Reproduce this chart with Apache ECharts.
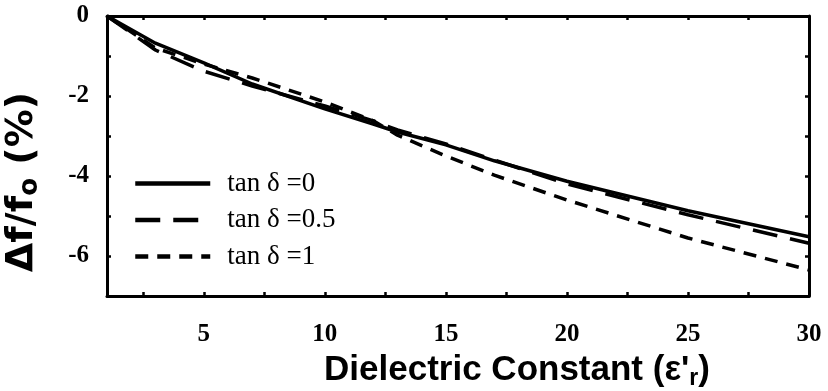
<!DOCTYPE html>
<html>
<head>
<meta charset="utf-8">
<script src="https://cdn.jsdelivr.net/npm/echarts@6/dist/echarts.min.js"></script>
<style>
  html, body { margin: 0; padding: 0; background: #fff; }
  #chart { width: 828px; height: 391px; }
</style>
</head>
<body>
<div id="chart"></div>
<script>
// Frequency shift versus dielectric constant for three loss tangents
const epsR = [1, 3, 5, 7, 10, 12, 13, 15, 17, 20, 25, 30];
const shiftTan0   = [0, -0.68, -1.17, -1.70, -2.32, -2.70, -2.90, -3.22, -3.62, -4.13, -4.87, -5.52];
const shiftTan05  = [0, -0.85, -1.38, -1.75, -2.25, -2.62, -2.85, -3.20, -3.60, -4.20, -4.97, -5.68];
const shiftTan1   = [0, -0.80, -1.20, -1.55, -2.15, -2.62, -2.98, -3.50, -3.98, -4.60, -5.55, -6.35];
const seriesNames = ['tan δ =0', 'tan δ =0.5', 'tan δ =1'];
const xLabelValues = [5, 10, 15, 20, 25, 30];
const xTickValues = [2.5, 5, 7.5, 10, 12.5, 15, 17.5, 20, 22.5, 25, 27.5];

const pairs = (ys) => epsR.map((x, i) => [x, ys[i]]);

const serifBold = { fontFamily: 'Liberation Serif', fontWeight: 'bold', color: '#000' };
const frameLine = { lineStyle: { color: '#000', width: 3 } };
const tickStyle = { color: '#000', width: 2.5 };

const chart = echarts.init(document.getElementById('chart'), null, { renderer: 'canvas' });

const baseX = {
  type: 'value', min: 1, max: 30,
  axisLine: Object.assign({ show: true, onZero: false }, frameLine),
  splitLine: { show: false },
  axisTick: { show: true, inside: true, length: 4, customValues: xTickValues, lineStyle: tickStyle }
};

chart.setOption({
  animation: false,
  backgroundColor: '#fff',
  grid: { left: 107, top: 16, right: 19, bottom: 95, containLabel: false, outerBoundsMode: 'none' },
  legend: {
    orient: 'vertical', left: 133, top: 170, padding: 0,
    itemWidth: 75, itemHeight: 14, itemGap: 9.5,
    itemStyle: { opacity: 0 },
    lineStyle: { width: 4.5 },
    textStyle: { fontFamily: 'Liberation Serif', fontSize: 27, color: '#000', padding: [0, 0, 0, 12] },
    data: seriesNames
  },
  xAxis: [
    Object.assign({}, baseX, {
      position: 'bottom',
      name: '{t|Dielectric Constant (ε\'}{s|r}{t|)}',
      nameLocation: 'middle', nameGap: 55,
      nameTextStyle: {
        padding: [0, 0, 0, 118],
        rich: {
          t: { fontFamily: 'Liberation Sans', fontWeight: 'bold', fontSize: 35, color: '#000' },
          s: { fontFamily: 'Liberation Sans', fontWeight: 'bold', fontSize: 23, color: '#000', padding: [16, 0, 0, 0] }
        }
      },
      axisLabel: Object.assign({ show: true, fontSize: 25, margin: 26, customValues: xLabelValues }, serifBold)
    }),
    Object.assign({}, baseX, { position: 'top', axisLabel: { show: false } })
  ],
  yAxis: [
    {
      type: 'value', min: -7, max: 0, interval: 1, position: 'left',
      axisLine: Object.assign({ show: true, onZero: false }, frameLine),
      splitLine: { show: false },
      axisTick: { show: true, inside: true, length: 4, lineStyle: tickStyle },
      axisLabel: Object.assign({
        fontSize: 25, margin: 18,
        formatter: (v) => (v % 2 === 0 ? String(v) : '')
      }, serifBold),
      name: '{t|Δf/f}{s|o}{t| (%)}',
      nameLocation: 'middle', nameGap: 64, nameRotate: 90,
      nameTextStyle: {
        padding: [0, 52, 0, 0],
        rich: {
          t: { fontFamily: 'DejaVu Sans', fontWeight: 'bold', fontSize: 38, color: '#000' },
          s: { fontFamily: 'DejaVu Sans', fontWeight: 'bold', fontSize: 26, color: '#000', padding: [16, 0, 0, 0] }
        }
      }
    },
    {
      type: 'value', min: -7, max: 0, interval: 1, position: 'right',
      axisLine: Object.assign({ show: true, onZero: false }, frameLine),
      splitLine: { show: false },
      axisTick: { show: true, inside: true, length: 4, lineStyle: tickStyle },
      axisLabel: { show: false }
    }
  ],
  series: [
    {
      name: seriesNames[0], type: 'line', data: pairs(shiftTan0),
      symbol: 'none', lineStyle: { color: '#000', width: 3.5, type: 'solid' },
      itemStyle: { color: '#000' }
    },
    {
      name: seriesNames[1], type: 'line', data: pairs(shiftTan05),
      symbol: 'none', lineStyle: { color: '#000', width: 3.5, type: [25, 13] },
      itemStyle: { color: '#000' }
    },
    {
      name: seriesNames[2], type: 'line', data: pairs(shiftTan1),
      symbol: 'none', lineStyle: { color: '#000', width: 3.5, type: [13, 9] },
      itemStyle: { color: '#000' }
    }
  ]
});
</script>
</body>
</html>
